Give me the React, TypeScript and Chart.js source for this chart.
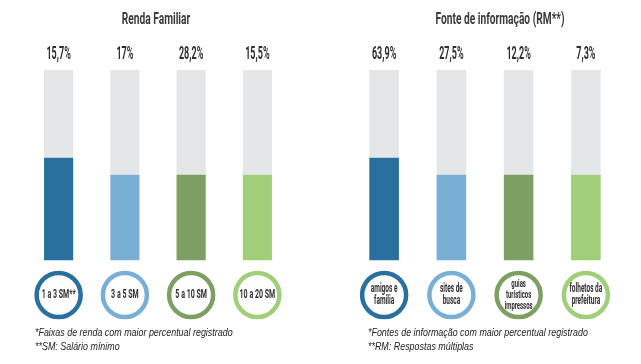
import React, { useEffect, useRef } from "react";
import { Chart, registerables } from "chart.js";

Chart.register(...registerables);

// ---------- data ----------
const incomeTitle = "Renda Familiar";
const incomeCategories = [["1 a 3 SM**"], ["3 a 5 SM"], ["5 a 10 SM"], ["10 a 20 SM"]];
const incomeValues = [15.7, 17, 28.2, 15.5];
const incomeBarLevels = [54, 45, 45, 45];
const incomeNotes = ["*Faixas de renda com maior percentual registrado", "**SM: Salário mínimo"];

const sourceTitle = "Fonte de informação (RM**)";
const sourceCategories = [["amigos e", "família"], ["sites de", "busca"], ["guias", "turísticos", "impressos"], ["folhetos da", "prefeitura"]];
const sourceValues = [63.9, 27.5, 12.2, 7.3];
const sourceBarLevels = [54, 45, 45, 45];
const sourceNotes = ["*Fontes de informação com maior percentual registrado", "**RM: Respostas múltiplas"];

const palette = ["#29709e", "#7aafd5", "#7d9f63", "#a1ce79"];
const trackColor = "#e5e6e8";
const textColor = "#333333";

// ---------- helpers ----------
function drawText(
  ctx: CanvasRenderingContext2D,
  text: string,
  x: number,
  y: number,
  size: number,
  sx: number,
  opts: { weight?: string; italic?: boolean; family?: string; align?: CanvasTextAlign; color?: string } = {}
) {
  ctx.save();
  ctx.translate(x, y);
  ctx.scale(sx, 1);
  ctx.font = `${opts.italic ? "italic " : ""}${opts.weight || "bold"} ${size}px ${opts.family || "Roboto"}`;
  ctx.textAlign = opts.align || "center";
  ctx.textBaseline = "middle";
  ctx.fillStyle = opts.color || textColor;
  ctx.fillText(text, 0, 0);
  ctx.restore();
}

type PanelProps = {
  width: number;
  title: string;
  titleX: number;
  categories: string[][];
  values: number[];
  levels: number[];
  notes: string[];
  notesX: number;
  padLeft: number;
  padRight: number;
};

function Panel(p: PanelProps) {
  const ref = useRef<HTMLCanvasElement | null>(null);
  useEffect(() => {
    const canvas = ref.current;
    if (!canvas) return;
    const decor = {
      id: "decor",
      afterDraw(chart: any) {
        const ctx: CanvasRenderingContext2D = chart.ctx;
        const xs = chart.scales.x;
        drawText(ctx, p.title, p.titleX, 20, 17, 0.6, { color: "#3a3a3a" });
        p.values.forEach((v, i) => {
          const cx = xs.getPixelForValue(i);
          drawText(ctx, `${v.toLocaleString("pt-BR")}%`, cx, 54, 18, 0.5, { color: "#2e2e2e" });
          // ring
          ctx.save();
          ctx.beginPath();
          ctx.arc(cx, 295, 22, 0, Math.PI * 2);
          ctx.lineWidth = 4.5;
          ctx.strokeStyle = palette[i];
          ctx.stroke();
          ctx.restore();
          const lines = p.categories[i];
          const lh = lines.length >= 3 ? 11 : 12.5;
          const size = lines.length >= 3 ? 11 : lines.length === 2 ? 12 : 13;
          lines.forEach((ln, k) => {
            const y = 295 + (k - (lines.length - 1) / 2) * lh;
            drawText(ctx, ln, cx, y, size, 0.54, { color: "#2e2e2e" });
          });
        });
        p.notes.forEach((n, k) => {
          drawText(ctx, n, p.notesX, 332.5 + k * 14.5, 11, 0.81, {
            weight: "normal",
            italic: true,
            family: "'Liberation Sans', Arial",
            align: "left",
            color: "#222",
          });
        });
      },
    };
    const chart = new Chart(canvas, {
      type: "bar",
      data: {
        labels: p.categories.map((c) => c.join(" ")),
        datasets: [
          { data: p.levels, backgroundColor: palette, borderWidth: 0, barPercentage: 0.44, categoryPercentage: 1 },
          { data: p.levels.map((l) => 100 - l), backgroundColor: trackColor, borderWidth: 0, barPercentage: 0.44, categoryPercentage: 1 },
        ],
      },
      options: {
        responsive: false,
        animation: false,
        devicePixelRatio: 1,
        layout: { padding: { top: 70, bottom: 103.5, left: p.padLeft, right: p.padRight } },
        plugins: { legend: { display: false }, tooltip: { enabled: false }, title: { display: false } },
        scales: {
          x: { display: false, stacked: true },
          y: { display: false, stacked: true, min: 0, max: 100 },
        },
      },
      plugins: [decor],
    });
    return () => chart.destroy();
  }, []);
  return <canvas ref={ref} width={p.width} height={364} style={{ display: "block", width: p.width, height: 364 }} />;
}

export default function App() {
  useEffect(() => {
    document.body.style.margin = "0";
  }, []);
  return (
    <div style={{ position: "absolute", left: 0, top: 0, width: 641, height: 364, display: "flex", background: "#fff" }}>
      <Panel
        width={320}
        title={incomeTitle}
        titleX={156}
        categories={incomeCategories}
        values={incomeValues}
        levels={incomeBarLevels}
        notes={incomeNotes}
        notesX={35}
        padLeft={25.5}
        padRight={29.5}
      />
      <Panel
        width={321}
        title={sourceTitle}
        titleX={180}
        categories={sourceCategories}
        values={sourceValues}
        levels={sourceBarLevels}
        notes={sourceNotes}
        notesX={48}
        padLeft={30.5}
        padRight={21.5}
      />
    </div>
  );
}
